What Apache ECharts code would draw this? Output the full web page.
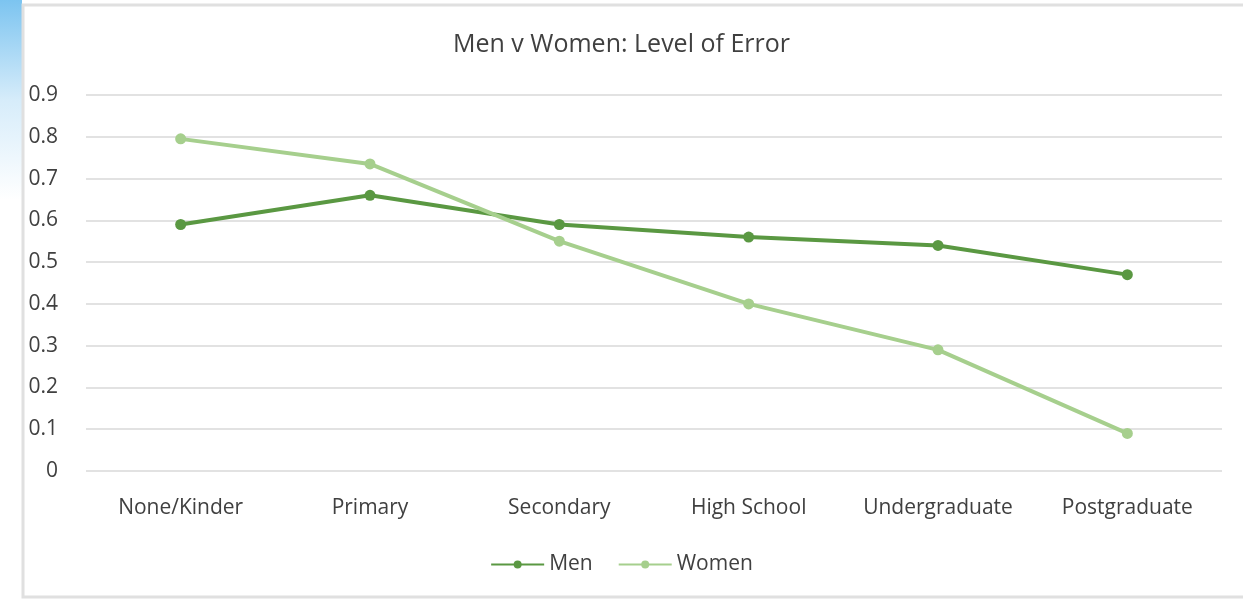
<!DOCTYPE html>
<html>
<head>
<meta charset="utf-8">
<script src="https://cdn.jsdelivr.net/npm/echarts@6/dist/echarts.min.js"></script>
<style>
html,body{margin:0;padding:0;background:#fff;}
#chart{width:1243px;height:602px;}
</style>
</head>
<body>
<div id="chart"></div>
<script>
const categories = ['None/Kinder', 'Primary', 'Secondary', 'High School', 'Undergraduate', 'Postgraduate'];
const menValues = [0.59, 0.66, 0.59, 0.56, 0.54, 0.47];
const womenValues = [0.795, 0.735, 0.55, 0.40, 0.29, 0.09];
const yTicks = [0, 0.1, 0.2, 0.3, 0.4, 0.5, 0.6, 0.7, 0.8, 0.9];

const font = '"Open Sans", sans-serif';
const chart = echarts.init(document.getElementById('chart'), null, {renderer: 'canvas'});
chart.setOption({
  backgroundColor: '#fff',
  animation: false,
  graphic: [
    {type: 'rect', shape: {x: 0, y: 0, width: 22, height: 200},
     style: {fill: new echarts.graphic.LinearGradient(0, 0, 0, 1, [
       {offset: 0, color: '#7cc4f0'}, {offset: 0.5, color: '#d6ecfa'}, {offset: 1, color: '#ffffff'}])}},
    {type: 'rect', shape: {x: 23, y: 5, width: 1240, height: 592},
     style: {fill: 'none', stroke: '#e0e0e0', lineWidth: 3}}
  ],
  title: {
    text: 'Men v Women: Level of Error',
    left: 'center', top: 27,
    textStyle: {fontFamily: font, fontSize: 25, fontWeight: 'normal', color: '#404040'}
  },
  legend: {
    bottom: 22, left: 'center',
    itemWidth: 53, itemHeight: 10, itemGap: 25,
    textStyle: {fontFamily: font, fontSize: 21, color: '#404040'},
    data: ['Men', 'Women']
  },
  grid: {left: 86, right: 21, top: 95, bottom: 131},
  xAxis: {
    type: 'category', data: categories, boundaryGap: true,
    axisLine: {show: false}, axisTick: {show: false},
    axisLabel: {fontFamily: font, fontSize: 21, color: '#404040', margin: 27, interval: 0, hideOverlap: false}
  },
  yAxis: {
    type: 'value', min: 0, max: 0.9, interval: 0.1,
    axisLine: {show: false}, axisTick: {show: false},
    splitLine: {lineStyle: {color: '#d9d9d9', width: 1.5}},
    axisLabel: {fontFamily: font, fontSize: 21, color: '#404040', margin: 28,
      formatter: v => { const t = yTicks.find(x => Math.abs(x - v) < 1e-9); return t === undefined ? '' : String(t); }}
  },
  series: [
    {name: 'Men', type: 'line', data: menValues, symbol: 'circle', symbolSize: 11,
     lineStyle: {color: '#5a9842', width: 4}, itemStyle: {color: '#5a9842'}},
    {name: 'Women', type: 'line', data: womenValues, symbol: 'circle', symbolSize: 11,
     lineStyle: {color: '#a6cf8d', width: 4}, itemStyle: {color: '#a6cf8d'}}
  ]
});
</script>
</body>
</html>
